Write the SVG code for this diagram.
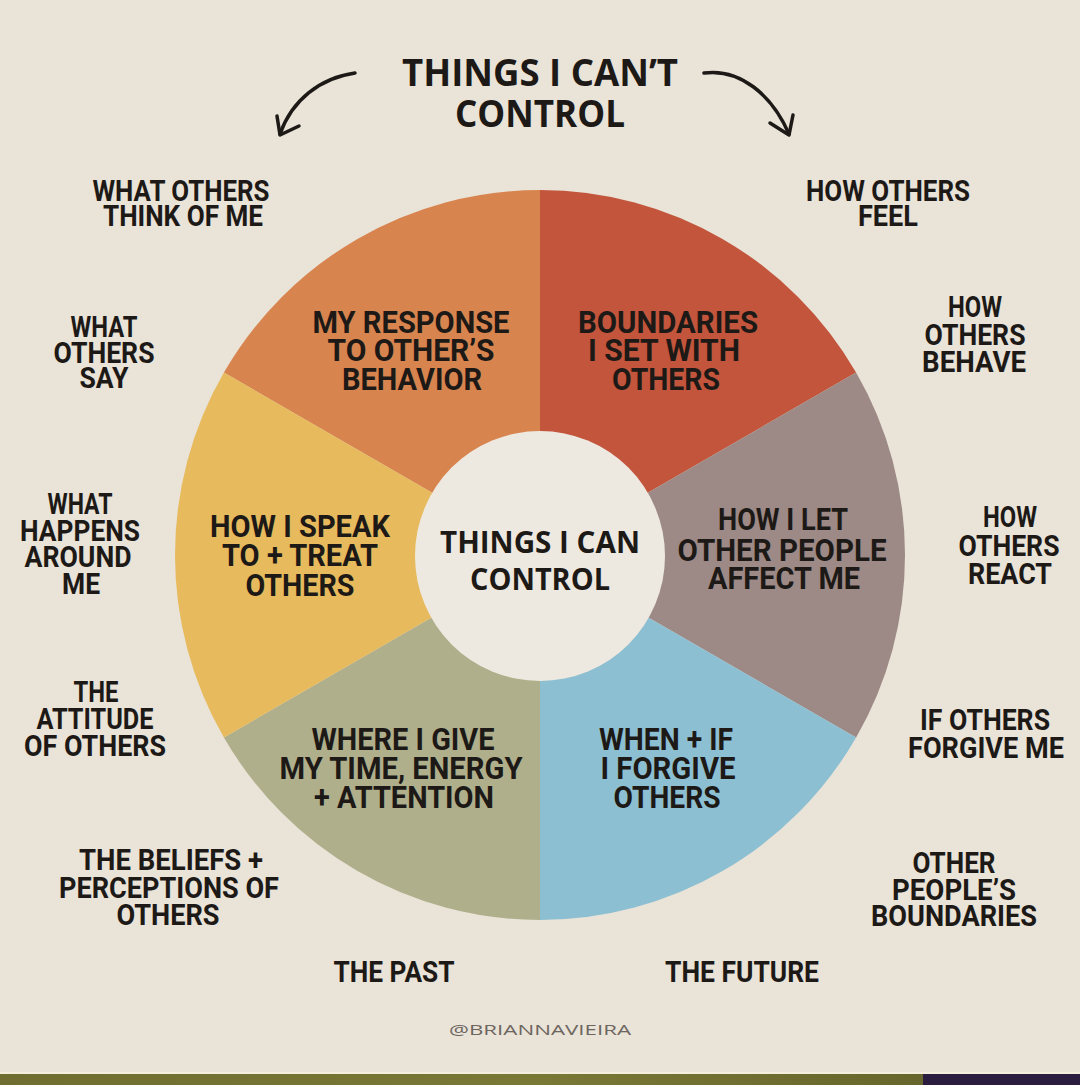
<svg xmlns="http://www.w3.org/2000/svg" width="1080" height="1085" viewBox="0 0 1080 1085">
<defs>
<style>
.lbl{font-family:Roboto,'DejaVu Sans',sans-serif;font-weight:700;fill:#1d1916;text-anchor:middle;}
.o{font-size:29px;}
.s{font-size:32px;}
.hand{font-family:'Open Sans',Lato,sans-serif;font-weight:700;fill:#1d1916;text-anchor:middle;}
.arrow{fill:none;stroke:#1d1916;stroke-width:3.5;stroke-linecap:round;stroke-linejoin:round;}
</style>
<linearGradient id="bar" x1="0" y1="0" x2="1" y2="0">
<stop offset="0" stop-color="#6F6E30"/><stop offset="0.5" stop-color="#7A7835"/><stop offset="1" stop-color="#5F5E28"/>
</linearGradient>
</defs>
<rect x="0" y="0" width="1080" height="1085" fill="#E9E3D8"/>
<rect x="0" y="1072" width="1080" height="2" fill="#F3EEDD"/>
<rect x="0" y="1074" width="1080" height="11" fill="url(#bar)"/>
<rect x="923" y="1074" width="157" height="11" fill="#2A1D3F"/>

<g id="title">
<text class="hand" font-size="38"><tspan x="540" y="86" textLength="276" lengthAdjust="spacingAndGlyphs">THINGS I CAN’T</tspan><tspan x="540" y="127" textLength="170" lengthAdjust="spacingAndGlyphs">CONTROL</tspan></text>
</g>

<g id="connectors">
<path class="arrow" d="M355,73 C320,78 292,100 280,134"/>
<path class="arrow" d="M277,116 L280,135 L299,126"/>
<path class="arrow" d="M704,73 C740,68 772,95 789,134"/>
<path class="arrow" d="M770,123 L789,135 L793,115"/>
</g>

<g id="wheel">
<g id="seg-response"><path d="M540,555 L223.9,372.5 A365,365 0 0 1 540,190 Z" fill="#D8844F"/>
<text class="lbl s"><tspan textLength="197" lengthAdjust="spacingAndGlyphs" x="411" y="333">MY RESPONSE</tspan><tspan textLength="167" lengthAdjust="spacingAndGlyphs" x="411" y="361">TO OTHER’S</tspan><tspan textLength="140" lengthAdjust="spacingAndGlyphs" x="412" y="390">BEHAVIOR</tspan></text></g>
<g id="seg-boundaries"><path d="M540,555 L540,190 A365,365 0 0 1 856.1,372.5 Z" fill="#C2553B"/>
<text class="lbl s"><tspan textLength="180" lengthAdjust="spacingAndGlyphs" x="668" y="333">BOUNDARIES</tspan><tspan textLength="152" lengthAdjust="spacingAndGlyphs" x="664" y="361">I SET WITH</tspan><tspan textLength="108" lengthAdjust="spacingAndGlyphs" x="666" y="390">OTHERS</tspan></text></g>
<g id="seg-affect"><path d="M540,555 L856.1,372.5 A365,365 0 0 1 856.1,737.5 Z" fill="#9D8985"/>
<text class="lbl s"><tspan textLength="130" lengthAdjust="spacingAndGlyphs" x="783" y="530">HOW I LET</tspan><tspan textLength="209" lengthAdjust="spacingAndGlyphs" x="782" y="561">OTHER PEOPLE</tspan><tspan textLength="152" lengthAdjust="spacingAndGlyphs" x="784" y="589">AFFECT ME</tspan></text></g>
<g id="seg-forgive"><path d="M540,555 L856.1,737.5 A365,365 0 0 1 540,920 Z" fill="#8DBFD2"/>
<text class="lbl s"><tspan textLength="134" lengthAdjust="spacingAndGlyphs" x="666" y="750">WHEN + IF</tspan><tspan textLength="135" lengthAdjust="spacingAndGlyphs" x="668" y="779">I FORGIVE</tspan><tspan textLength="107" lengthAdjust="spacingAndGlyphs" x="667" y="808">OTHERS</tspan></text></g>
<g id="seg-time"><path d="M540,555 L540,920 A365,365 0 0 1 223.9,737.5 Z" fill="#B0AF8C"/>
<text class="lbl s"><tspan textLength="183" lengthAdjust="spacingAndGlyphs" x="403" y="750">WHERE I GIVE</tspan><tspan textLength="243" lengthAdjust="spacingAndGlyphs" x="401" y="779">MY TIME, ENERGY</tspan><tspan textLength="180" lengthAdjust="spacingAndGlyphs" x="404" y="808">+ ATTENTION</tspan></text></g>
<g id="seg-speak"><path d="M540,555 L223.9,737.5 A365,365 0 0 1 223.9,372.5 Z" fill="#E7BA5D"/>
<text class="lbl s"><tspan textLength="180" lengthAdjust="spacingAndGlyphs" x="300" y="537">HOW I SPEAK</tspan><tspan textLength="156" lengthAdjust="spacingAndGlyphs" x="300" y="566">TO + TREAT</tspan><tspan textLength="109" lengthAdjust="spacingAndGlyphs" x="300" y="596">OTHERS</tspan></text></g>
<g id="center"><circle cx="540" cy="556" r="125" fill="#EEE9E0"/>
<text class="hand" font-size="30"><tspan x="540" y="553" textLength="200" lengthAdjust="spacingAndGlyphs">THINGS I CAN</tspan><tspan x="540" y="590" textLength="140" lengthAdjust="spacingAndGlyphs">CONTROL</tspan></text></g>
</g>

<g id="n-think"><text class="lbl o"><tspan textLength="177" lengthAdjust="spacingAndGlyphs" x="181" y="201">WHAT OTHERS</tspan><tspan textLength="160" lengthAdjust="spacingAndGlyphs" x="183" y="226">THINK OF ME</tspan></text></g>
<g id="n-feel"><text class="lbl o"><tspan textLength="164" lengthAdjust="spacingAndGlyphs" x="888" y="201">HOW OTHERS</tspan><tspan textLength="60" lengthAdjust="spacingAndGlyphs" x="888" y="226">FEEL</tspan></text></g>
<g id="n-say"><text class="lbl o"><tspan textLength="67" lengthAdjust="spacingAndGlyphs" x="104" y="337">WHAT</tspan><tspan textLength="101" lengthAdjust="spacingAndGlyphs" x="104" y="363">OTHERS</tspan><tspan textLength="49" lengthAdjust="spacingAndGlyphs" x="104" y="388">SAY</tspan></text></g>
<g id="n-behave"><text class="lbl o"><tspan textLength="54" lengthAdjust="spacingAndGlyphs" x="975" y="317">HOW</tspan><tspan textLength="101" lengthAdjust="spacingAndGlyphs" x="975" y="345">OTHERS</tspan><tspan textLength="104" lengthAdjust="spacingAndGlyphs" x="974" y="372">BEHAVE</tspan></text></g>
<g id="n-happens"><text class="lbl o"><tspan textLength="65" lengthAdjust="spacingAndGlyphs" x="80" y="514">WHAT</tspan><tspan textLength="120" lengthAdjust="spacingAndGlyphs" x="80" y="541">HAPPENS</tspan><tspan textLength="107" lengthAdjust="spacingAndGlyphs" x="78" y="567">AROUND</tspan><tspan textLength="38" lengthAdjust="spacingAndGlyphs" x="81" y="594">ME</tspan></text></g>
<g id="n-react"><text class="lbl o"><tspan textLength="54" lengthAdjust="spacingAndGlyphs" x="1010" y="527">HOW</tspan><tspan textLength="101" lengthAdjust="spacingAndGlyphs" x="1009" y="556">OTHERS</tspan><tspan textLength="84" lengthAdjust="spacingAndGlyphs" x="1010" y="584">REACT</tspan></text></g>
<g id="n-attitude"><text class="lbl o"><tspan textLength="45" lengthAdjust="spacingAndGlyphs" x="96" y="702">THE</tspan><tspan textLength="117" lengthAdjust="spacingAndGlyphs" x="95" y="729">ATTITUDE</tspan><tspan textLength="142" lengthAdjust="spacingAndGlyphs" x="95" y="756">OF OTHERS</tspan></text></g>
<g id="n-forgive-me"><text class="lbl o"><tspan textLength="130" lengthAdjust="spacingAndGlyphs" x="985" y="730">IF OTHERS</tspan><tspan textLength="156" lengthAdjust="spacingAndGlyphs" x="986" y="758">FORGIVE ME</tspan></text></g>
<g id="n-beliefs"><text class="lbl o"><tspan textLength="184" lengthAdjust="spacingAndGlyphs" x="171" y="870">THE BELIEFS +</tspan><tspan textLength="220" lengthAdjust="spacingAndGlyphs" x="169" y="898">PERCEPTIONS OF</tspan><tspan textLength="103" lengthAdjust="spacingAndGlyphs" x="168" y="925">OTHERS</tspan></text></g>
<g id="n-boundaries"><text class="lbl o"><tspan textLength="83" lengthAdjust="spacingAndGlyphs" x="954" y="873">OTHER</tspan><tspan textLength="124" lengthAdjust="spacingAndGlyphs" x="954" y="900">PEOPLE’S</tspan><tspan textLength="166" lengthAdjust="spacingAndGlyphs" x="954" y="926">BOUNDARIES</tspan></text></g>
<g id="n-past"><text class="lbl o" textLength="121" lengthAdjust="spacingAndGlyphs" x="394" y="982">THE PAST</text></g>
<g id="n-future"><text class="lbl o" textLength="154" lengthAdjust="spacingAndGlyphs" x="742" y="982">THE FUTURE</text></g>
<g id="credit">
<text x="540" y="1035" font-family="'Open Sans',Lato,sans-serif" font-size="14" fill="#6d6660" text-anchor="middle" textLength="182" lengthAdjust="spacingAndGlyphs">@BRIANNAVIEIRA</text></g>
</svg>
